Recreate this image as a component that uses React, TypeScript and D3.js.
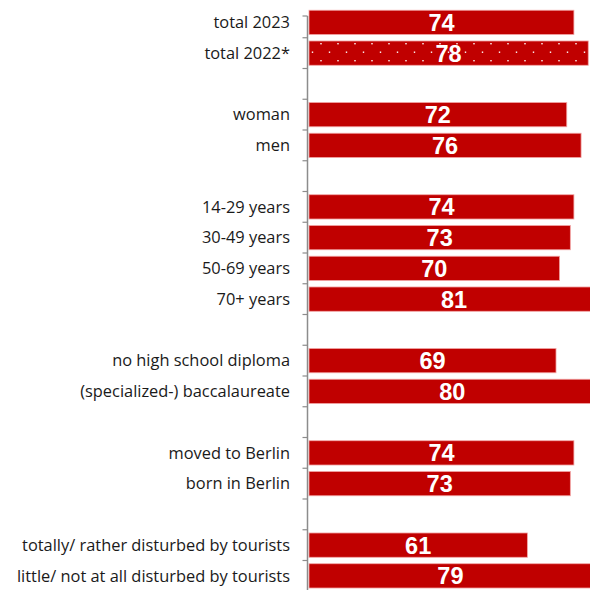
import React from "react";
import * as d3 from "d3";

const categories = [
  "total 2023",
  "total 2022*",
  "",
  "woman",
  "men",
  " ",
  "14-29 years",
  "30-49 years",
  "50-69 years",
  "70+ years",
  "  ",
  "no high school diploma",
  "(specialized-) baccalaureate",
  "   ",
  "moved to Berlin",
  "born in Berlin",
  "    ",
  "totally/ rather disturbed by tourists",
  "little/ not at all disturbed by tourists",
];
const values: (number | null)[] = [74, 78, null, 72, 76, null, 74, 73, 70, 81, null, 69, 80, null, 74, 73, null, 61, 79];
const dotted = [false, true, false, false, false, false, false, false, false, false, false, false, false, false, false, false, false, false, false];

const W = 590;
const H = 590;
const axisX = 307.5;

export default function App() {
  const y = d3.scaleBand<string>().domain(categories).range([7, 7 + 19 * 30.75]).padding(0);
  const x = d3.scaleLinear().domain([0, 100]).range([309, 309 + 358]);
  const bw = y.bandwidth();
  const barPad = bw * 0.105;
  const barH = bw - 2 * barPad;
  const ticks = [16, ...categories.slice(1).map((c) => y(c)!)];
  return (
    <svg width={W} height={H} style={{ position: "absolute", left: 0, top: 0 }}>
      <defs>
        <pattern id="dots" width={17} height={17} patternUnits="userSpaceOnUse">
          <rect width={17} height={17} fill="#C00000" />
          <rect x={14.3} y={9} width={1.4} height={1.4} fill="#fff" />
          <rect x={5.8} y={0.5} width={1.4} height={1.4} fill="#fff" />
        </pattern>
        <clipPath id="clip">
          <rect x={0} y={0} width={W} height={H} />
        </clipPath>
      </defs>
      <g clipPath="url(#clip)">
        {categories.map((c, i) => {
          const v = values[i];
          if (v == null) return null;
          const y0 = y(c)! + barPad;
          return (
            <g key={i}>
              <rect
                x={x(0)}
                y={y0}
                width={x(v) - x(0)}
                height={barH}
                fill={dotted[i] ? "url(#dots)" : "#C00000"}
                stroke="#f2a6a6"
                strokeWidth={0.8}
              />
              <text
                x={x(v / 2)}
                y={y0 + barH / 2}
                dy="0.36em"
                textAnchor="middle"
                fill="#fff"
                fontFamily="'Liberation Sans', Arial, sans-serif"
                fontWeight="bold"
                fontSize={23.5}
              >
                {v}
              </text>
            </g>
          );
        })}
      </g>
      <line x1={axisX} x2={axisX} y1={16} y2={H} stroke="#8c8c8c" strokeWidth={1.5} />
      {ticks.map((t, i) => (
        <line key={i} x1={axisX - 5} x2={axisX} y1={t} y2={t} stroke="#8c8c8c" strokeWidth={1.2} />
      ))}
      {categories.map((c, i) =>
        values[i] == null ? null : (
          <text
            key={i}
            x={290}
            y={y(c)! + bw / 2}
            dy="0.35em"
            textAnchor="end"
            fill="#1a1a1a"
            fontFamily="'Open Sans', sans-serif"
            fontSize={16.4}
          >
            {c}
          </text>
        )
      )}
    </svg>
  );
}
